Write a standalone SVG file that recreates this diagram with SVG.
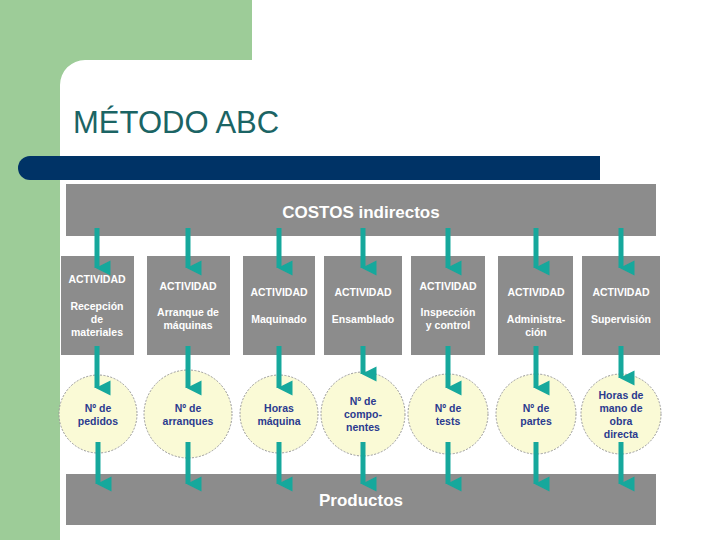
<svg xmlns="http://www.w3.org/2000/svg" width="720" height="540" viewBox="0 0 720 540">
<defs>
<style>
.g{fill:#8c8c8c}
.t{font-family:"Liberation Sans",Arial,sans-serif;font-weight:bold;fill:#fff;text-anchor:middle;font-size:10.5px}
.c{fill:#fafad6;stroke:#999;stroke-dasharray:2 1.5;stroke-width:1}
.ct{font-family:"Liberation Sans",Arial,sans-serif;font-weight:bold;fill:#2b3a8f;text-anchor:middle;font-size:10.5px}
.a{stroke:#16a89c;stroke-width:5}
</style>
<marker id="ah" viewBox="0 0 10 10" refX="5" refY="9" markerWidth="3.2" markerHeight="3" orient="auto-start-reverse" markerUnits="strokeWidth"><path d="M0,0 L10,0 L5,10 Z" fill="#16a89c"/></marker>
</defs>
<rect width="720" height="540" fill="#fff"/>
<rect x="0" y="0" width="60" height="540" fill="#9dcc98"/>
<path d="M60,0 H252 V60 H85 A25,25 0 0 0 60,85 Z" fill="#9dcc98"/>
<text x="73" y="133" font-family="Liberation Sans,Arial,sans-serif" font-size="31" fill="#1b6464">MÉTODO ABC</text>
<path d="M30,156 H600 V180 H30 A12,12 0 0 1 30,156 Z" fill="#003366"/>
<g id="costos"><rect class="g" x="66" y="184" width="590" height="52"/><text x="361" y="218" font-family="Liberation Sans,Arial,sans-serif" font-weight="bold" font-size="17" fill="#fff" text-anchor="middle">COSTOS indirectos</text></g>
<g id="productos"><rect class="g" x="66" y="474" width="590" height="51"/><text x="361" y="506" font-family="Liberation Sans,Arial,sans-serif" font-weight="bold" font-size="17" fill="#fff" text-anchor="middle">Productos</text></g>
<g id="act1"><rect class="g" x="61" y="256" width="73" height="99"/><text class="t" x="97" y="283">ACTIVIDAD</text><text class="t" x="97" y="310">Recepción</text><text class="t" x="97" y="323">de</text><text class="t" x="97" y="336">materiales</text></g>
<g id="act2"><rect class="g" x="147" y="256" width="83" height="99"/><text class="t" x="188" y="290">ACTIVIDAD</text><text class="t" x="188" y="316">Arranque de</text><text class="t" x="188" y="329">máquinas</text></g>
<g id="act3"><rect class="g" x="243" y="256" width="72" height="99"/><text class="t" x="279" y="296">ACTIVIDAD</text><text class="t" x="279" y="323">Maquinado</text></g>
<g id="act4"><rect class="g" x="324" y="256" width="78" height="99"/><text class="t" x="363" y="296">ACTIVIDAD</text><text class="t" x="363" y="323">Ensamblado</text></g>
<g id="act5"><rect class="g" x="411" y="256" width="74" height="99"/><text class="t" x="448" y="290">ACTIVIDAD</text><text class="t" x="448" y="316">Inspección</text><text class="t" x="448" y="329">y control</text></g>
<g id="act6"><rect class="g" x="498" y="256" width="75" height="99"/><text class="t" x="536" y="296">ACTIVIDAD</text><text class="t" x="536" y="323">Administra-</text><text class="t" x="536" y="336">ción</text></g>
<g id="act7"><rect class="g" x="582" y="256" width="78" height="99"/><text class="t" x="621" y="296">ACTIVIDAD</text><text class="t" x="621" y="323">Supervisión</text></g>
<g id="d1"><circle class="c" cx="98" cy="414" r="39"/><text class="ct" x="98" y="412">Nº de</text><text class="ct" x="98" y="425">pedidos</text></g>
<g id="d2"><circle class="c" cx="188" cy="414" r="44"/><text class="ct" x="188" y="412">Nº de</text><text class="ct" x="188" y="425">arranques</text></g>
<g id="d3"><circle class="c" cx="279" cy="414" r="39"/><text class="ct" x="279" y="412">Horas</text><text class="ct" x="279" y="425">máquina</text></g>
<g id="d4"><circle class="c" cx="363" cy="414" r="42"/><text class="ct" x="363" y="405">Nº de</text><text class="ct" x="363" y="418">compo-</text><text class="ct" x="363" y="431">nentes</text></g>
<g id="d5"><circle class="c" cx="448" cy="414" r="40"/><text class="ct" x="448" y="412">Nº de</text><text class="ct" x="448" y="425">tests</text></g>
<g id="d6"><circle class="c" cx="536" cy="414" r="40"/><text class="ct" x="536" y="412">Nº de</text><text class="ct" x="536" y="425">partes</text></g>
<g id="d7"><circle class="c" cx="621" cy="414" r="40"/><text class="ct" x="621" y="399">Horas de</text><text class="ct" x="621" y="412">mano de</text><text class="ct" x="621" y="425">obra</text><text class="ct" x="621" y="438">directa</text></g>
<g id="connectors" class="a" marker-end="url(#ah)">
<line x1="97" y1="228" x2="97" y2="268" marker-end="url(#ah)"/><line x1="188" y1="228" x2="188" y2="268" marker-end="url(#ah)"/><line x1="279" y1="228" x2="279" y2="268" marker-end="url(#ah)"/><line x1="363" y1="228" x2="363" y2="268" marker-end="url(#ah)"/><line x1="448" y1="228" x2="448" y2="268" marker-end="url(#ah)"/><line x1="536" y1="228" x2="536" y2="268" marker-end="url(#ah)"/><line x1="621" y1="228" x2="621" y2="268" marker-end="url(#ah)"/>
<line x1="97" y1="346" x2="97" y2="388" marker-end="url(#ah)"/><line x1="188" y1="346" x2="188" y2="388" marker-end="url(#ah)"/><line x1="279" y1="346" x2="279" y2="388" marker-end="url(#ah)"/><line x1="363" y1="346" x2="363" y2="374" marker-end="url(#ah)"/><line x1="448" y1="346" x2="448" y2="388" marker-end="url(#ah)"/><line x1="536" y1="346" x2="536" y2="388" marker-end="url(#ah)"/><line x1="621" y1="346" x2="621" y2="378" marker-end="url(#ah)"/>
<line x1="98" y1="442" x2="98" y2="484" marker-end="url(#ah)"/><line x1="188" y1="442" x2="188" y2="484" marker-end="url(#ah)"/><line x1="279" y1="442" x2="279" y2="484" marker-end="url(#ah)"/><line x1="363" y1="442" x2="363" y2="484" marker-end="url(#ah)"/><line x1="448" y1="442" x2="448" y2="484" marker-end="url(#ah)"/><line x1="536" y1="442" x2="536" y2="484" marker-end="url(#ah)"/><line x1="621" y1="442" x2="621" y2="484" marker-end="url(#ah)"/>
</g>
</svg>
